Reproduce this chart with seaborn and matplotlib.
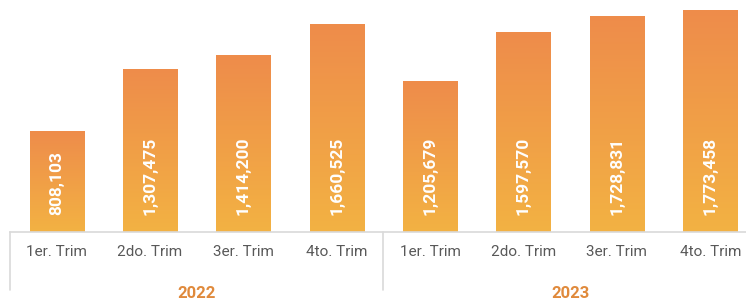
import numpy as np
import pandas as pd
import matplotlib
matplotlib.use("Agg")
import matplotlib.pyplot as plt
import seaborn as sns
from matplotlib.colors import LinearSegmentedColormap

years = ["2022", "2023"]
quarters = ["1er. Trim", "2do. Trim", "3er. Trim", "4to. Trim"]
values_2022 = [808103, 1307475, 1414200, 1660525]
values_2023 = [1205679, 1597570, 1728831, 1773458]

rows = []
for y, vals in zip(years, [values_2022, values_2023]):
    for q, v in zip(quarters, vals):
        rows.append({"key": f"{y} {q}", "year": y, "quarter": q, "value": v})
df = pd.DataFrame(rows)

sns.set_theme(style="white")
plt.rcParams["font.family"] = ["Roboto", "DejaVu Sans"]

fig = plt.figure(figsize=(7.46, 3.01), dpi=100)
ax = fig.add_axes([10 / 746, 69 / 301, 747 / 746, 232 / 301])

sns.barplot(data=df, x="key", y="value", order=list(df["key"]), color="#F0A045",
            width=0.58, ax=ax)
ax.set_xlim(-0.5, 7.5)
ax.set_ylim(0, 1856000)

cmap = LinearSegmentedColormap.from_list("g", ["#F3B243", "#EE8C4B"])
grad = np.linspace(0, 1, 256).reshape(-1, 1)
for p in list(ax.patches):
    x0, y0 = p.get_x(), p.get_y()
    w, h = p.get_width(), p.get_height()
    p.set_facecolor("none")
    p.set_edgecolor("none")
    im = ax.imshow(grad, cmap=cmap, origin="lower", aspect="auto",
                   extent=[x0, x0 + w, y0, y0 + h], zorder=2)
    im.set_clip_path(p)
ax.set_xlim(-0.5, 7.5)
ax.set_ylim(0, 1856000)

for i, v in enumerate(df["value"]):
    ax.annotate(f"{v:,}", xy=(i, 0), xytext=(0, 12), textcoords="offset points",
                rotation=90, ha="center", va="bottom", color="white",
                fontsize=12.5, fontweight="bold", zorder=5)

ax.set_xticks(range(len(df)))
ax.set_xticklabels(df["quarter"], fontsize=11, color="#595959")
ax.tick_params(axis="x", length=0, pad=9)
ax.set_yticks([])
ax.set_xlabel("")
ax.set_ylabel("")
for s in ["top", "right", "left"]:
    ax.spines[s].set_visible(False)
ax.spines["bottom"].set_color("#D9D9D9")
ax.spines["bottom"].set_linewidth(1.2)

trans = ax.get_xaxis_transform()
for xb in [-0.5, 3.5]:
    ax.plot([xb, xb], [0, -0.25], transform=trans, color="#D9D9D9", lw=1.2,
            clip_on=False)
for j, y in enumerate(years):
    ax.text(1.5 + 4 * j, -0.265, y, transform=trans, ha="center", va="center",
            color="#E08A3C", fontsize=12, fontweight="bold")

fig.savefig("out.png", dpi=100)
